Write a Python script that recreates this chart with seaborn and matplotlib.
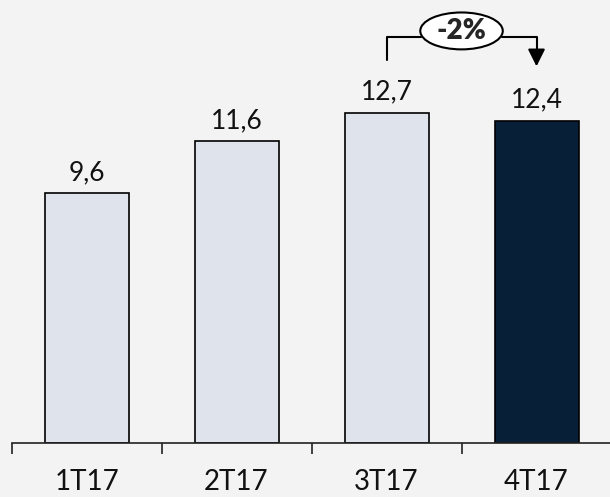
import matplotlib
matplotlib.use('Agg')
import matplotlib.pyplot as plt
import pandas as pd
import seaborn as sns
from matplotlib.patches import Ellipse

quarters = ['1T17', '2T17', '3T17', '4T17']
values = [9.6, 11.6, 12.7, 12.4]
labels = ['9,6', '11,6', '12,7', '12,4']
change = '-2%'

light = '#dce3ee'
dark = '#00203f'
bg = '#f3f3f3'

df = pd.DataFrame({'q': quarters, 'v': values})
palette = {q: (dark if i == len(quarters) - 1 else light) for i, q in enumerate(quarters)}

sns.set_style('white')
plt.rcParams['font.family'] = ['Lato', 'DejaVu Sans']

fig = plt.figure(figsize=(6.1, 4.97), dpi=100, facecolor=bg)
ax = fig.add_axes([0.019, 0.109, 0.981, 0.891])
ax.set_facecolor(bg)

sns.barplot(data=df, x='q', y='v', hue='q', palette=palette, legend=False,
            width=0.56, edgecolor='black', linewidth=1.2, ax=ax)

ax.set_xlim(-0.5, 3.49)
ax.set_ylim(0, 17.04)
ax.set_xlabel('')
ax.set_ylabel('')
ax.set_yticks([])
for s in ['top', 'right', 'left']:
    ax.spines[s].set_visible(False)
ax.spines['bottom'].set_color('#222222')
ax.spines['bottom'].set_linewidth(1.2)

# ticks sit between categories, labels under bars
ax.set_xticks([i - 0.5 for i in range(len(quarters))], minor=True)
ax.tick_params(axis='x', which='minor', bottom=True, length=8, width=1.2,
               color='#222222', direction='out')
ax.tick_params(axis='x', which='major', length=0, pad=19, labelsize=20, labelcolor='#111111')

for i, (v, lab) in enumerate(zip(values, labels)):
    ax.annotate(lab, xy=(i, v), xytext=(0, 6), textcoords='offset points',
                ha='center', va='bottom', fontsize=19, color='#111111')

# bracket with change bubble between 3T17 and 4T17
x0, x1 = 2, 3
yb = 15.6
ax.plot([x0, x0, 2.23], [14.73, yb, yb], color='black', lw=1.5, clip_on=False)
ax.plot([2.77, x1, x1], [yb, yb, 15.0], color='black', lw=1.5, clip_on=False)
ax.annotate('', xy=(x1, 14.38), xytext=(x1, 15.05),
            arrowprops=dict(arrowstyle='-|>', color='black', lw=1.5, mutation_scale=26))
ax.add_patch(Ellipse(((x0 + x1) / 2, 15.85), 0.55, 1.42, facecolor='white',
                     edgecolor='black', lw=1.5, clip_on=False, zorder=5))
ax.text((x0 + x1) / 2, 15.85, change, ha='center', va='center', fontsize=20,
        fontweight='heavy', zorder=6)

fig.savefig('out.png', dpi=100, facecolor=bg)
